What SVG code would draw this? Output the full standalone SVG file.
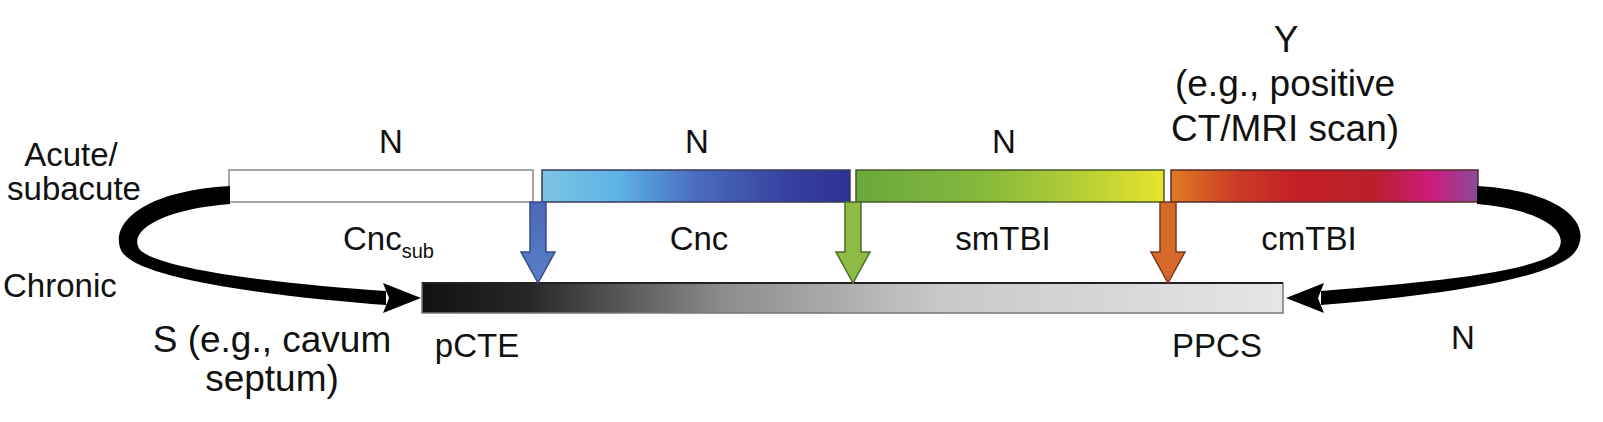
<svg xmlns="http://www.w3.org/2000/svg" width="1603" height="422" viewBox="0 0 1603 422">
<defs>
<linearGradient id="gBlue" x1="0" x2="1" y1="0" y2="0">
<stop offset="0" stop-color="#7cc4e4"/><stop offset="0.25" stop-color="#5cb2e6"/><stop offset="0.5" stop-color="#4a6cc0"/><stop offset="0.8" stop-color="#36409e"/><stop offset="1" stop-color="#2c3294"/>
</linearGradient>
<linearGradient id="gGreen" x1="0" x2="1" y1="0" y2="0">
<stop offset="0" stop-color="#6aa83c"/><stop offset="0.4" stop-color="#84b83c"/><stop offset="0.75" stop-color="#b8d034"/><stop offset="1" stop-color="#e8e42c"/>
</linearGradient>
<linearGradient id="gRed" x1="0" x2="1" y1="0" y2="0">
<stop offset="0" stop-color="#e07a24"/><stop offset="0.22" stop-color="#cc3a26"/><stop offset="0.4" stop-color="#c42026"/><stop offset="0.65" stop-color="#bc1e2a"/><stop offset="0.85" stop-color="#cc1c7c"/><stop offset="1" stop-color="#8a4c9a"/>
</linearGradient>
<linearGradient id="gGray" x1="0" x2="1" y1="0" y2="0">
<stop offset="0" stop-color="#111"/><stop offset="0.12" stop-color="#262626"/><stop offset="0.35" stop-color="#8c8c8c"/><stop offset="0.6" stop-color="#c8c8c8"/><stop offset="1" stop-color="#e6e6e6"/>
</linearGradient>
<linearGradient id="gArrBlue" x1="0" x2="0" y1="0" y2="1">
<stop offset="0" stop-color="#4a68b8"/><stop offset="1" stop-color="#5a80c8"/>
</linearGradient>
</defs>
<style>
text{font-family:"Liberation Sans",Arial,sans-serif;fill:#111}
.lbl{font-size:33px}
.big{font-size:37px}
.c{text-anchor:middle}
.bar{stroke-width:1.5}
.loop{fill:#000;stroke:none}
</style>
<rect width="1603" height="422" fill="#fff"/>

<g id="side-labels">
<text class="lbl c" x="71" y="166">Acute/</text>
<text class="lbl c" x="74" y="200">subacute</text>
<text class="lbl" x="3" y="297">Chronic</text>
</g>

<g id="cncsub">
<rect class="bar" x="229" y="170" width="304" height="32" fill="#fff" stroke="#8a8a8a"/>
<text class="lbl c" x="391" y="153">N</text>
<text class="lbl" x="343" y="250">Cnc<tspan font-size="20" dy="8">sub</tspan></text>
</g>

<g id="cnc">
<rect class="bar" x="542" y="170" width="308" height="32" fill="url(#gBlue)" stroke="#3a3a5a"/>
<text class="lbl c" x="697" y="153">N</text>
<text class="lbl c" x="699" y="250">Cnc</text>
</g>

<g id="smtbi">
<rect class="bar" x="856" y="170" width="308" height="32" fill="url(#gGreen)" stroke="#4a5a2a"/>
<text class="lbl c" x="1004" y="153">N</text>
<text class="lbl c" x="1003" y="250">smTBI</text>
</g>

<g id="cmtbi">
<rect class="bar" x="1171" y="170" width="307" height="32" fill="url(#gRed)" stroke="#5a2a2a"/>
<text class="big c" x="1286" y="52">Y</text>
<text class="big c" x="1285" y="96">(e.g., positive</text>
<text class="big c" x="1285" y="141">CT/MRI scan)</text>
<text class="lbl c" x="1309" y="250">cmTBI</text>
</g>

<g id="chronic-bar">
<rect class="bar" x="422" y="283" width="861" height="30" fill="url(#gGray)" stroke="#777"/>
<line x1="422" y1="283" x2="1283" y2="283" stroke="#222" stroke-width="2"/>
<text class="lbl c" x="477" y="357">pCTE</text>
<text class="lbl c" x="1217" y="357">PPCS</text>
</g>

<g id="outcome-labels">
<text class="big c" x="272" y="352">S (e.g., cavum</text>
<text class="big c" x="272" y="391">septum)</text>
<text class="lbl c" x="1463" y="349">N</text>
</g>

<g id="connectors">
<path class="loop" d="M230 186 C140 191 108 226 122 252 C142 282 295 298 386 305 L386 291 C300 285 164 272 140 250 C126 230 165 209 230 204 Z"/>
<path class="loop" d="M383 283 L421 298 L383 313 L389 298 Z"/>
<path class="loop" d="M1477 186 C1565 191 1594 226 1575 252 C1552 282 1410 298 1321 305 L1321 291 C1400 284 1540 274 1558 250 C1571 230 1538 209 1477 204 Z"/>
<path class="loop" d="M1324 283 L1286 298 L1324 313 L1318 298 Z"/>
<path d="M530 202 H546 V252 H555 L538 283 L521 252 H530 Z" fill="url(#gArrBlue)" stroke="#3a4a8a" stroke-width="1.5"/>
<path d="M845 202 H861 V252 H870 L853 283 L836 252 H845 Z" fill="#8cbc44" stroke="#4e6a2a" stroke-width="1.5"/>
<path d="M1160 202 H1176 V252 H1185 L1168 283 L1151 252 H1160 Z" fill="#d4692a" stroke="#7a3a1a" stroke-width="1.5"/>
</g>
</svg>
